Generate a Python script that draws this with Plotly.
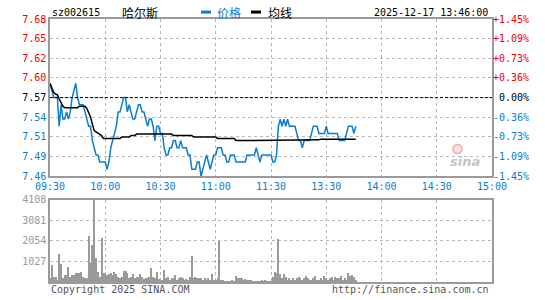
import plotly.graph_objects as go

CODE = "sz002615"
NAME = "哈尔斯"
TIMESTAMP = "2025-12-17 13:46:00"
PREV_CLOSE = 7.57
PCT_RANGE = 1.45
VOL_MAX = 4108

TIME_LABELS = ["09:30", "10:00", "10:30", "11:00", "11:30", "13:30", "14:00", "14:30", "15:00"]
PRICE_LABELS = ["7.46", "7.49", "7.51", "7.54", "7.57", "7.60", "7.62", "7.65", "7.68"]
PCT_LABELS = ["-1.45%", "-1.09%", "-0.73%", "-0.36%", "0.00%", "+0.36%", "+0.73%", "+1.09%", "+1.45%"]
VOL_LABELS = ["1027", "2054", "3081", "4108"]

price = [
    7.59, 7.58, 7.57, 7.57, 7.57, 7.53, 7.56, 7.54, 7.54, 7.55,
    7.54, 7.55, 7.57, 7.58, 7.59, 7.57, 7.56, 7.56, 7.56, 7.55,
    7.54, 7.53, 7.53, 7.51, 7.50, 7.49, 7.49, 7.48, 7.48, 7.48,
    7.48, 7.47, 7.48, 7.50, 7.51, 7.52, 7.53, 7.55, 7.55, 7.56,
    7.57, 7.57, 7.55, 7.56, 7.55, 7.54, 7.54, 7.55, 7.56, 7.56,
    7.55, 7.55, 7.54, 7.53, 7.54, 7.54, 7.53, 7.51, 7.53, 7.53,
    7.52, 7.52, 7.50, 7.49, 7.49, 7.50, 7.50, 7.51, 7.51, 7.50,
    7.50, 7.51, 7.50, 7.50, 7.50, 7.49, 7.49, 7.47, 7.47, 7.47,
    7.48, 7.48, 7.46, 7.47, 7.48, 7.49, 7.48, 7.47, 7.48, 7.49,
    7.49, 7.50, 7.50, 7.50, 7.49, 7.49, 7.48, 7.48, 7.49, 7.49,
    7.49, 7.48, 7.48, 7.48, 7.48, 7.48, 7.48, 7.49, 7.49, 7.49,
    7.49, 7.49, 7.50, 7.49, 7.48, 7.49, 7.49, 7.49, 7.49, 7.49,
    7.49, 7.48, 7.48, 7.49, 7.53, 7.54, 7.53, 7.54, 7.53, 7.54,
    7.53, 7.53, 7.53, 7.53, 7.52, 7.51, 7.51, 7.50, 7.51, 7.51,
    7.51, 7.51, 7.52, 7.53, 7.53, 7.53, 7.52, 7.52, 7.52, 7.52,
    7.53, 7.52, 7.52, 7.52, 7.52, 7.52, 7.52, 7.51, 7.51, 7.51,
    7.51, 7.52, 7.53, 7.53, 7.53, 7.52, 7.53,
]

avg_price = [
    7.590, 7.582, 7.577, 7.575, 7.574, 7.568, 7.562, 7.558, 7.556, 7.556,
    7.556, 7.556, 7.556, 7.556, 7.556, 7.556, 7.558, 7.558, 7.558, 7.558,
    7.555, 7.549, 7.543, 7.533, 7.524, 7.522, 7.520, 7.518, 7.517, 7.513,
    7.513, 7.513, 7.513, 7.513, 7.513, 7.513, 7.513, 7.513, 7.513, 7.515,
    7.515, 7.515, 7.515, 7.515, 7.517, 7.517, 7.517, 7.519, 7.519, 7.519,
    7.519, 7.519, 7.519, 7.519, 7.519, 7.519, 7.519, 7.519, 7.519, 7.519,
    7.519, 7.519, 7.519, 7.519, 7.519, 7.519, 7.519, 7.517, 7.517, 7.517,
    7.517, 7.517, 7.517, 7.517, 7.517, 7.517, 7.517, 7.517, 7.515, 7.515,
    7.515, 7.515, 7.515, 7.515, 7.515, 7.515, 7.515, 7.515, 7.515, 7.515,
    7.515, 7.513, 7.513, 7.513, 7.513, 7.513, 7.513, 7.513, 7.513, 7.513,
    7.513, 7.510, 7.510, 7.510, 7.510, 7.510, 7.510, 7.510, 7.510, 7.510,
    7.510, 7.510, 7.510, 7.510, 7.510, 7.510, 7.510, 7.510, 7.510, 7.510,
    7.510, 7.510, 7.510, 7.510, 7.511, 7.511, 7.511, 7.511, 7.511, 7.511,
    7.511, 7.511, 7.511, 7.511, 7.511, 7.511, 7.511, 7.511, 7.511, 7.511,
    7.511, 7.511, 7.511, 7.511, 7.511, 7.511, 7.511, 7.512, 7.512, 7.512,
    7.512, 7.512, 7.512, 7.512, 7.512, 7.512, 7.512, 7.512, 7.512, 7.512,
    7.512, 7.512, 7.512, 7.512, 7.512, 7.512, 7.512,
]

volume = [
    215, 840, 265, 265, 100, 1390, 890, 215, 345, 345,
    760, 265, 345, 345, 430, 460, 430, 510, 265, 215,
    215, 2330, 960, 1865, 4108, 1220, 495, 265, 2210, 430,
    460, 345, 395, 460, 345, 510, 395, 265, 180, 265,
    560, 560, 430, 180, 265, 395, 215, 265, 265, 395,
    265, 130, 215, 215, 265, 725, 265, 180, 510, 130,
    100, 100, 595, 180, 265, 100, 180, 180, 345, 100,
    180, 265, 180, 100, 130, 100, 265, 1300, 215, 265,
    215, 215, 215, 80, 215, 80, 180, 100, 425, 100,
    80, 215, 2070, 100, 100, 65, 65, 65, 65, 100,
    65, 310, 215, 180, 180, 100, 130, 100, 100, 100,
    65, 50, 65, 65, 50, 100, 65, 100, 50, 65,
    50, 265, 510, 460, 2180, 400, 215, 425, 265, 100,
    215, 100, 180, 100, 215, 265, 215, 100, 215, 310,
    180, 100, 100, 180, 310, 100, 100, 180, 100, 300,
    180, 100, 215, 265, 100, 265, 180, 215, 310, 100,
    215, 100, 460, 300, 330, 260, 100,
]

minutes = list(range(len(price)))

# ---- styling ----
W, H = 545, 300
L, R, T, B = 50, 492, 19, 285          # plot area in pixels
PRICE_BOTTOM, VOL_TOP = 178, 202
MONO = "DejaVu Sans Mono"
CJK = "Noto Sans CJK SC"
BLUE = "#0a7dd2"
RED = "#f00000"
GRID = "#b8b8b8"
FRAME = "#9a9a9a"
VOLC = "#9a9a9a"


def px(x):
    return (x - L) / (R - L)


def py(y):
    return (B - y) / (B - T)


n_ticks = len(PRICE_LABELS)
half = (n_ticks - 1) // 2
price_tickvals = [PREV_CLOSE * (1 + PCT_RANGE / 100 * (k - half) / half) for k in range(n_ticks)]
lo, hi = price_tickvals[0], price_tickvals[-1]


def colorize(labels):
    out = []
    for k, lab in enumerate(labels):
        c = RED if k > half else ("#000000" if k == half else BLUE)
        out.append(f'<span style="color:{c}">{lab}</span>')
    return out


def fix_pct(lab):
    return lab if len(lab) == 6 else "\u00a0" + lab


pct_text = [fix_pct(lab) for lab in PCT_LABELS]

fig = go.Figure()

fig.add_trace(go.Bar(x=minutes, y=volume, xaxis="x2", yaxis="y2",
                     marker=dict(color=VOLC, line=dict(width=0)), width=0.55,
                     showlegend=False))
fig.add_trace(go.Scatter(x=minutes, y=price, mode="lines", xaxis="x", yaxis="y",
                         line=dict(color=BLUE, width=1.5), showlegend=False))
fig.add_trace(go.Scatter(x=minutes, y=avg_price, mode="lines", xaxis="x", yaxis="y",
                         line=dict(color="#000000", width=1.5), showlegend=False))

time_vals = [30 * i for i in range(len(TIME_LABELS))]
xmax = time_vals[-1]

common_x = dict(range=[0, xmax], tickvals=time_vals, showgrid=True, gridcolor=GRID,
                griddash="dot", gridwidth=1, showline=True, linecolor=FRAME, linewidth=1.5,
                mirror=True, zeroline=False, ticks="", fixedrange=True)

fig.update_layout(
    width=W, height=H, autosize=False,
    margin=dict(l=L, r=W - R, t=T, b=H - B, pad=0),
    paper_bgcolor="white", plot_bgcolor="white",
    bargap=0,
    xaxis=dict(common_x, domain=[0, 1], anchor="y", ticktext=TIME_LABELS,
               tickfont=dict(family=MONO, size=10, color=BLUE)),
    xaxis2=dict(common_x, domain=[0, 1], anchor="y2", showticklabels=False),
    yaxis=dict(domain=[py(PRICE_BOTTOM), 1], range=[lo, hi], tickvals=price_tickvals,
               ticktext=colorize(PRICE_LABELS), tickfont=dict(family=MONO, size=10),
               showgrid=True, gridcolor=GRID, griddash="dot", gridwidth=1,
               showline=True, linecolor=FRAME, linewidth=1.5, mirror=True,
               zeroline=False, ticks="", anchor="x", fixedrange=True),
    yaxis3=dict(overlaying="y", side="right", range=[lo, hi], tickvals=price_tickvals,
                ticktext=colorize(pct_text), tickfont=dict(family=MONO, size=10),
                showgrid=False, showline=False, zeroline=False, ticks="", anchor="x",
                fixedrange=True),
    yaxis2=dict(domain=[0, py(VOL_TOP)], range=[0, VOL_MAX],
                tickvals=[int(v) for v in VOL_LABELS], ticktext=VOL_LABELS,
                tickfont=dict(family=MONO, size=10, color="#999999"),
                showgrid=True, gridcolor=GRID, griddash="dot", gridwidth=1,
                showline=True, linecolor=FRAME, linewidth=1.5, mirror=True,
                zeroline=False, ticks="", anchor="x2", fixedrange=True),
)

# invisible trace so yaxis3 shows
fig.add_trace(go.Scatter(x=[minutes[0]], y=[PREV_CLOSE], yaxis="y3", mode="markers",
                         marker=dict(opacity=0), showlegend=False, hoverinfo="skip"))

# previous close dashed line
fig.add_shape(type="line", xref="x domain", yref="y", x0=0, x1=1, y0=PREV_CLOSE, y1=PREV_CLOSE,
              line=dict(color="#000000", width=1, dash="3px,2px"))

# header
ann = []
ann.append(dict(text=CODE, x=px(50), y=py(12), xanchor="left", yanchor="middle",
                font=dict(family=MONO, size=10, color="#000")))
ann.append(dict(text=NAME, x=px(120), y=py(12), xanchor="left", yanchor="middle",
                font=dict(family=CJK, size=12, color="#000")))
ann.append(dict(text="价格", x=px(215), y=py(12), xanchor="left", yanchor="middle",
                font=dict(family=CJK, size=12, color=BLUE)))
ann.append(dict(text="均线", x=px(266), y=py(12), xanchor="left", yanchor="middle",
                font=dict(family=CJK, size=12, color="#000")))
ann.append(dict(text=TIMESTAMP, x=px(490), y=py(12), xanchor="right", yanchor="middle",
                font=dict(family=MONO, size=10, color="#000")))
# footer
ann.append(dict(text="Copyright 2025 SINA.COM", x=px(49), y=py(293), xanchor="left",
                yanchor="middle", font=dict(family=MONO, size=10, color="#555")))
ann.append(dict(text="http://finance.sina.com.cn", x=px(491), y=py(293), xanchor="right",
                yanchor="middle", font=dict(family=MONO, size=10, color="#555")))
# watermark
ann.append(dict(text="<b><i>sina</i></b>", x=px(465), y=py(163), xanchor="center",
                yanchor="middle", font=dict(family="DejaVu Sans", size=13, color="#c4c4c4")))
for a in ann:
    a.update(xref="paper", yref="paper", showarrow=False)
fig.update_layout(annotations=ann)

# watermark eye (small pinkish circle)
fig.add_shape(type="circle", xref="paper", yref="paper", x0=px(453), x1=px(462),
              y0=py(155), y1=py(146), line=dict(color="#f0a8a8", width=1.5),
              fillcolor="rgba(240,168,168,0.35)")

# legend dashes
fig.add_shape(type="line", xref="paper", yref="paper", x0=px(201), x1=px(211), y0=py(12), y1=py(12),
              line=dict(color=BLUE, width=3))
fig.add_shape(type="line", xref="paper", yref="paper", x0=px(251), x1=px(261), y0=py(12), y1=py(12),
              line=dict(color="#000", width=3))

fig.write_html("out.html")
